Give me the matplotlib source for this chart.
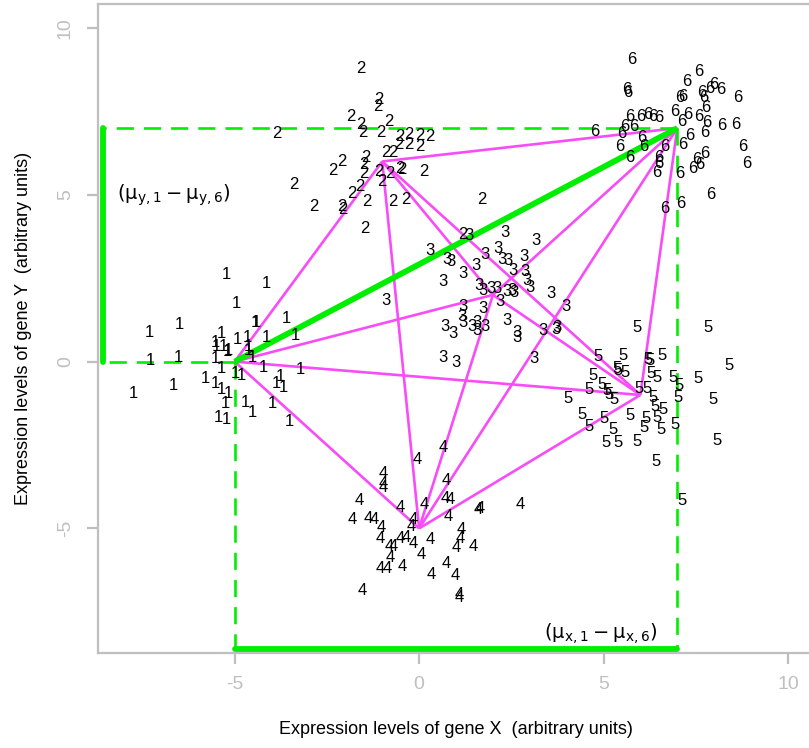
import itertools
import matplotlib
matplotlib.use("Agg")
import matplotlib.pyplot as plt

plt.rcParams['font.family'] = ['Liberation Sans', 'DejaVu Sans']
plt.rcParams['mathtext.fontset'] = 'dejavusans'
plt.rcParams['axes.unicode_minus'] = False

# expression values (gene X, gene Y) for each of the six groups
grp1 = [(-5.23, 2.62), (-4.13, 2.34), (-4.96, 1.74), (-6.50, 1.11), (-7.31, 0.88),
        (-4.44, 1.18), (-4.40, 1.18), (-3.60, 1.29), (-5.35, 0.83), (-5.53, 0.58),
        (-4.94, 0.65), (-4.67, 0.73), (-4.13, 0.73), (-3.36, 0.78), (-5.17, 0.33),
        (-5.20, 0.30), (-4.63, 0.33), (-5.53, 0.08), (-7.29, 0.03), (-6.52, 0.11),
        (-4.53, 0.11), (-5.35, -0.22), (-4.99, -0.37), (-4.81, -0.42), (-4.22, -0.17),
        (-3.22, -0.25), (-5.80, -0.52), (-5.53, -0.65), (-3.77, -0.45), (-3.86, -0.67),
        (-3.68, -0.79), (-6.66, -0.72), (-7.74, -0.95), (-5.35, -0.85), (-5.17, -0.97),
        (-5.26, -1.27), (-4.72, -1.23), (-4.53, -1.53), (-3.99, -1.27), (-5.44, -1.68),
        (-5.23, -1.73), (-3.51, -1.80), (-5.50, 0.45), (-5.30, 0.45), (-4.62, 0.45)]
grp2 = [(-1.57, 8.79), (-1.08, 7.86), (-1.12, 7.66), (-1.84, 7.34), (-0.83, 7.21),
        (-1.57, 7.11), (-3.86, 6.83), (-1.53, 6.86), (-1.03, 6.86), (-0.53, 6.76),
        (-0.29, 6.81), (0.03, 6.78), (0.30, 6.76), (-0.56, 6.51), (-0.29, 6.51),
        (0.03, 6.45), (-0.89, 6.27), (-0.71, 6.27), (-2.09, 6.00), (-2.34, 5.73),
        (-1.44, 6.11), (-1.51, 5.90), (-1.51, 5.65), (-1.08, 5.70), (-0.80, 5.65),
        (-0.51, 5.80), (-0.47, 5.75), (-1.01, 5.40), (0.12, 5.70), (-3.41, 5.30),
        (-1.60, 5.25), (-1.82, 5.05), (-2.86, 4.65), (-2.09, 4.65), (-2.07, 4.55),
        (-1.42, 4.80), (-0.71, 4.80), (-0.35, 4.87), (1.70, 4.85), (-1.46, 4.00),
        (1.18, 3.80)]
grp3 = [(1.34, 3.77), (2.33, 3.88), (3.17, 3.62), (0.30, 3.32), (0.75, 3.06),
        (0.86, 2.99), (1.79, 3.22), (2.15, 3.39), (2.24, 3.06), (2.42, 3.04),
        (2.83, 3.16), (1.54, 2.89), (1.20, 2.64), (2.54, 2.74), (2.87, 2.69),
        (2.92, 2.44), (3.01, 2.22), (0.64, 2.39), (1.63, 2.29), (1.74, 2.12),
        (1.94, 2.19), (2.10, 2.19), (2.38, 2.09), (2.51, 2.12), (2.57, 2.06),
        (2.20, 1.79), (3.57, 2.04), (3.98, 1.66), (-0.89, 1.82), (1.18, 1.66),
        (1.74, 1.59), (1.16, 1.36), (0.70, 1.05), (0.93, 0.83), (1.20, 1.18),
        (1.43, 1.05), (1.56, 1.18), (1.58, 0.93), (1.79, 1.05), (2.38, 1.23),
        (2.65, 0.88), (2.65, 0.73), (3.37, 0.93), (3.73, 1.03), (3.72, 0.95),
        (0.64, 0.13), (1.00, -0.02), (3.12, 0.08)]
grp4 = [(0.66, -2.58), (-0.05, -2.93), (-0.98, -3.36), (-0.98, -3.64), (-0.97, -3.77),
        (0.73, -3.56), (-1.62, -4.17), (-0.50, -4.37), (0.14, -4.27), (0.70, -4.11),
        (0.84, -4.14), (0.79, -4.64), (1.61, -4.44), (1.65, -4.40), (2.74, -4.29),
        (-1.80, -4.74), (-1.37, -4.69), (-1.22, -4.74), (-1.04, -4.97), (-0.15, -4.74),
        (-0.20, -4.94), (-1.06, -5.29), (-0.51, -5.29), (-0.35, -5.27), (-0.15, -5.44),
        (0.30, -5.34), (-0.80, -5.54), (-0.70, -5.54), (1.13, -5.04), (1.11, -5.31),
        (1.00, -5.57), (1.47, -5.54), (0.07, -5.77), (-0.79, -5.87), (-1.06, -6.21),
        (-0.86, -6.20), (-0.47, -6.14), (0.32, -6.38), (0.73, -6.05), (0.98, -6.42),
        (-1.53, -6.85), (1.09, -6.98), (1.09, -7.08)]
grp5 = [(5.90, 1.03), (7.84, 1.03), (8.41, -0.12), (4.86, 0.15), (5.52, 0.18),
        (6.21, 0.05), (6.25, 0.02), (6.58, 0.18), (5.36, -0.22), (5.40, -0.27),
        (5.58, -0.32), (4.72, -0.42), (4.95, -0.69), (6.28, -0.37), (6.44, -0.49),
        (6.89, -0.49), (7.05, -0.72), (7.57, -0.52), (4.62, -0.85), (5.10, -0.87),
        (5.16, -0.99), (5.28, -1.15), (5.97, -0.82), (6.17, -0.82), (6.35, -1.07),
        (7.03, -1.07), (7.96, -1.15), (4.03, -1.12), (4.41, -1.58), (5.01, -1.70),
        (5.72, -1.63), (6.15, -1.70), (6.40, -1.36), (6.44, -1.68), (6.62, -1.45),
        (4.62, -1.96), (5.25, -2.03), (6.10, -1.98), (6.55, -2.03), (6.94, -1.90),
        (5.07, -2.43), (5.40, -2.43), (5.90, -2.40), (8.07, -2.36), (6.42, -3.00),
        (7.12, -4.17)]
grp6 = [(5.76, 9.07), (7.57, 8.71), (7.25, 8.41), (5.63, 8.16), (5.67, 8.06),
        (7.98, 8.31), (8.18, 8.16), (7.89, 8.18), (7.66, 8.06), (7.07, 7.91),
        (7.15, 7.96), (7.72, 7.91), (8.63, 7.91), (7.78, 7.61), (6.94, 7.51),
        (5.72, 7.34), (6.01, 7.34), (6.19, 7.41), (6.33, 7.34), (6.51, 7.31),
        (7.27, 7.41), (7.57, 7.34), (7.12, 7.21), (7.80, 7.16), (5.58, 7.06),
        (5.81, 7.06), (8.20, 7.08), (8.59, 7.11), (4.77, 6.91), (5.49, 6.84),
        (6.03, 6.71), (7.33, 6.78), (7.75, 6.86), (5.43, 6.45), (6.10, 6.45),
        (6.67, 6.45), (7.16, 6.51), (8.77, 6.45), (5.72, 6.11), (6.51, 6.11),
        (7.75, 6.23), (7.53, 6.05), (8.88, 5.93), (6.49, 5.95), (6.44, 5.67),
        (7.07, 5.65), (7.42, 5.80), (7.60, 5.90), (7.90, 5.00), (6.67, 4.60),
        (7.09, 4.75)]
groups = [grp1, grp2, grp3, grp4, grp5, grp6]

# group means
mu_x = [-5, -1, 2, 0, 6, 7]
mu_y = [0, 6, 2, -5, -1, 7]

lims = (-8.72, 10.72)
ticks = [-5, 0, 5, 10]
grey = '#bfbfbf'
green = '#00ee00'
pink = '#f84cf8'

fig = plt.figure(figsize=(8.09, 7.48), dpi=100)
ax = fig.add_axes([97.5 / 809, (748 - 652.5) / 748, 717 / 809, 648.5 / 748])
ax.set_xlim(lims)
ax.set_ylim(lims)

# group labels as text
for k, pts in enumerate(groups):
    for x, y in pts:
        ax.text(x, y, str(k + 1), fontsize=12, ha='center', va='center',
                zorder=4)

# lines between every pair of means
for i, j in itertools.combinations(range(6), 2):
    ax.plot([mu_x[i], mu_x[j]], [mu_y[i], mu_y[j]], color=pink, lw=1.9,
            solid_capstyle='butt', zorder=2)

a, b = 0, 5   # groups 1 and 6
ax.plot([mu_x[a], mu_x[b]], [mu_y[a], mu_y[b]], color=green, lw=4.2,
        solid_capstyle='butt', zorder=3)

# projections onto the axes
xe = lims[0] + 0.14
ye = lims[0] + 0.1
dash = dict(color=green, lw=1.9, dashes=(6.5, 3.8), zorder=3)
for k in (a, b):
    ax.plot([mu_x[k], xe], [mu_y[k], mu_y[k]], **dash)
    ax.plot([mu_x[k], mu_x[k]], [mu_y[k], ye], **dash)
ax.plot([xe, xe], [mu_y[a], mu_y[b]], color=green, lw=4.2,
        solid_capstyle='round', zorder=3)
ax.plot([mu_x[a], mu_x[b]], [ye, ye], color=green, lw=4.2,
        solid_capstyle='round', zorder=3)

ax.text(-8.18, 5, r'$\left(\mathrm{\mu_{y,1} - \mu_{y,6}}\right)$', fontsize=14,
        ha='left', va='center', zorder=4)
ax.text(6.45, -8.15, r'$\left(\mathrm{\mu_{x,1} - \mu_{x,6}}\right)$', fontsize=14,
        ha='right', va='center', zorder=4)

# axes styling
for s in ('left', 'top', 'bottom'):
    ax.spines[s].set_color(grey)
    ax.spines[s].set_linewidth(1.6)
ax.spines['right'].set_visible(False)
ax.set_xticks(ticks)
ax.set_yticks(ticks)
ax.tick_params(length=8, width=1.6, color=grey, labelcolor=grey,
               labelsize=14, pad=9)
for lab in ax.get_yticklabels():
    lab.set_rotation(90)
    lab.set_va('center')

ax.set_xlabel('Expression levels of gene X  (arbitrary units)', fontsize=13,
              labelpad=20)
ax.set_ylabel('Expression levels of gene Y  (arbitrary units)', fontsize=13,
              labelpad=18)

fig.savefig('out.png', dpi=100)
